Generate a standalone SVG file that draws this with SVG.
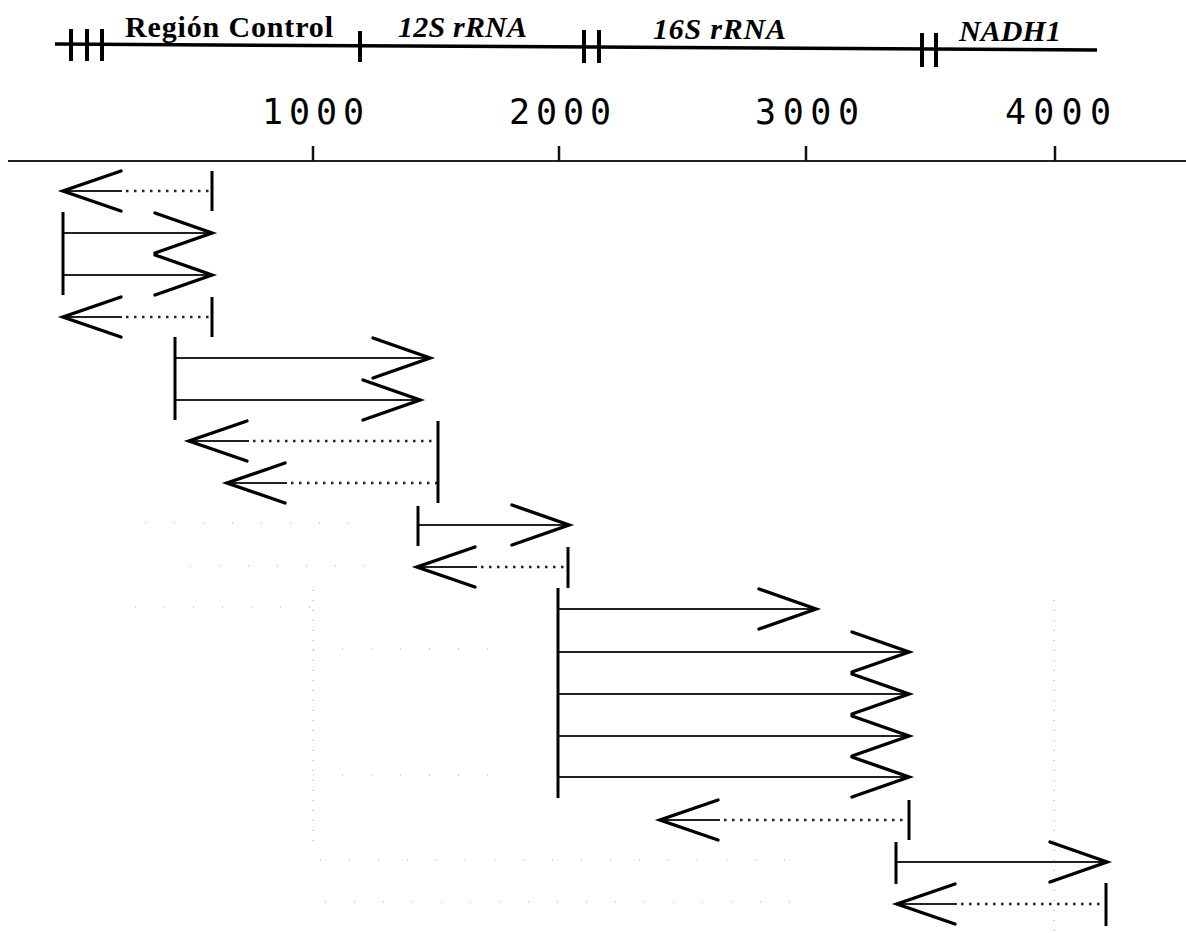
<svg xmlns="http://www.w3.org/2000/svg" width="1186" height="933" viewBox="0 0 1186 933">
<style>
.lbl{font-family:"Liberation Serif","Times New Roman",serif;font-weight:bold;font-size:30px;fill:#000}
.it{font-style:italic}
.num{font-family:"DejaVu Sans Mono","Liberation Mono",monospace;font-size:35px;fill:#000;text-anchor:middle}
.ruler{stroke:#000;stroke-width:3.5;fill:none}
.tk{stroke:#000;stroke-width:4}
.axis{stroke:#222;stroke-width:2}
.atk{stroke:#111;stroke-width:2.5}
.sl{stroke:#222;stroke-width:1.8}
.dl{stroke:#222;stroke-width:2.6;stroke-dasharray:2.5 5.5}
.hd{fill:none;stroke:#000;stroke-width:3.4;stroke-linejoin:miter;stroke-linecap:round}
.bar{stroke:#000;stroke-width:3}
.grid{stroke:#999;stroke-width:1;stroke-dasharray:1 9}
.spk{stroke:#aaa;stroke-width:1.2;stroke-dasharray:1 28}
</style>
<rect width="1186" height="933" fill="#fff"/>
<g id="noise">
<line class="grid" x1="313" y1="590" x2="313" y2="845"/>
<line class="grid" x1="1054" y1="600" x2="1054" y2="933"/>
<line class="spk" x1="145" y1="523" x2="370" y2="523"/>
<line class="spk" x1="190" y1="566" x2="370" y2="566"/>
<line class="spk" x1="135" y1="607" x2="320" y2="607"/>
<line class="spk" x1="313" y1="649" x2="490" y2="649"/>
<line class="spk" x1="313" y1="775" x2="490" y2="775"/>
<line class="spk" x1="320" y1="860" x2="810" y2="860"/>
<line class="spk" x1="325" y1="902" x2="810" y2="902"/>
</g>
<g id="gene-map">
<line class="ruler" x1="55" y1="44" x2="1097" y2="50"/>
<line class="tk" x1="71" y1="29" x2="71" y2="61"/>
<line class="tk" x1="87" y1="29" x2="87" y2="61"/>
<line class="tk" x1="102" y1="29" x2="102" y2="61"/>
<line class="tk" x1="360" y1="31" x2="360" y2="62"/>
<line class="tk" x1="584" y1="30" x2="584" y2="63"/>
<line class="tk" x1="599" y1="30" x2="599" y2="63"/>
<line class="tk" x1="922" y1="33" x2="922" y2="67"/>
<line class="tk" x1="936" y1="33" x2="936" y2="67"/>
</g>
<g id="label-region-control"><text class="lbl" x="125" y="37" textLength="208" lengthAdjust="spacing">Región Control</text></g>
<g id="label-12s"><text class="lbl it" x="398" y="37" textLength="129" lengthAdjust="spacing">12S rRNA</text></g>
<g id="label-16s"><text class="lbl it" x="653" y="39" textLength="133" lengthAdjust="spacing">16S rRNA</text></g>
<g id="label-nadh1"><text class="lbl it" x="959" y="41" textLength="102" lengthAdjust="spacing">NADH1</text></g>
<g id="scale-axis">
<line class="axis" x1="8" y1="161" x2="1186" y2="161"/>
<line class="atk" x1="313" y1="146" x2="313" y2="161"/>
<line class="atk" x1="559" y1="146" x2="559" y2="161"/>
<line class="atk" x1="806" y1="146" x2="806" y2="161"/>
<line class="atk" x1="1055" y1="146" x2="1055" y2="161"/>
<text class="num" x="313" y="124" textLength="102" lengthAdjust="spacing">1000</text>
<text class="num" x="560" y="124" textLength="102" lengthAdjust="spacing">2000</text>
<text class="num" x="807" y="124" textLength="104" lengthAdjust="spacing">3000</text>
<text class="num" x="1058" y="124" textLength="106" lengthAdjust="spacing">4000</text>
</g>
<g id="amplicons">
<g id="r0"><line class="sl" x1="63" y1="191" x2="122" y2="191"/><line class="dl" x1="126" y1="191" x2="212" y2="191"/><polyline class="hd" points="121,171 63,191 121,211"/><line class="bar" x1="212" y1="171" x2="212" y2="211"/></g>
<g id="r1"><line class="sl" x1="63" y1="233" x2="212" y2="233"/><polyline class="hd" points="155,213 212,233 155,253"/></g>
<g id="r2"><line class="sl" x1="63" y1="275" x2="212" y2="275"/><polyline class="hd" points="155,255 212,275 155,295"/></g>
<line id="b12" class="bar" x1="63" y1="212" x2="63" y2="295"/>
<g id="r3"><line class="sl" x1="63" y1="317" x2="122" y2="317"/><line class="dl" x1="126" y1="317" x2="212" y2="317"/><polyline class="hd" points="121,297 63,317 121,337"/><line class="bar" x1="212" y1="297" x2="212" y2="337"/></g>
<g id="r4"><line class="sl" x1="175" y1="358" x2="430" y2="358"/><polyline class="hd" points="373,338 430,358 373,378"/></g>
<g id="r5"><line class="sl" x1="175" y1="400" x2="420" y2="400"/><polyline class="hd" points="363,380 420,400 363,420"/></g>
<line id="b45" class="bar" x1="175" y1="337" x2="175" y2="420"/>
<g id="r6"><line class="sl" x1="189" y1="441" x2="249" y2="441"/><line class="dl" x1="253" y1="441" x2="438" y2="441"/><polyline class="hd" points="247,421 189,441 247,461"/></g>
<g id="r7"><line class="sl" x1="227" y1="483" x2="287" y2="483"/><line class="dl" x1="291" y1="483" x2="438" y2="483"/><polyline class="hd" points="285,463 227,483 285,503"/></g>
<line id="b67" class="bar" x1="438" y1="421" x2="438" y2="503"/>
<g id="r8"><line class="sl" x1="418" y1="525" x2="569" y2="525"/><polyline class="hd" points="512,505 569,525 512,545"/><line class="bar" x1="418" y1="506" x2="418" y2="546"/></g>
<g id="r9"><line class="sl" x1="417" y1="567" x2="477" y2="567"/><line class="dl" x1="481" y1="567" x2="568" y2="567"/><polyline class="hd" points="475,547 417,567 475,587"/><line class="bar" x1="568" y1="547" x2="568" y2="588"/></g>
<g id="r10"><line class="sl" x1="558" y1="609" x2="816" y2="609"/><polyline class="hd" points="759,589 816,609 759,629"/></g>
<g id="r11"><line class="sl" x1="558" y1="652" x2="909" y2="652"/><polyline class="hd" points="852,632 909,652 852,672"/></g>
<g id="r12"><line class="sl" x1="558" y1="694" x2="909" y2="694"/><polyline class="hd" points="852,674 909,694 852,714"/></g>
<g id="r13"><line class="sl" x1="558" y1="736" x2="909" y2="736"/><polyline class="hd" points="852,716 909,736 852,756"/></g>
<g id="r14"><line class="sl" x1="558" y1="777" x2="909" y2="777"/><polyline class="hd" points="852,757 909,777 852,797"/></g>
<line id="b1014" class="bar" x1="558" y1="588" x2="558" y2="798"/>
<g id="r15"><line class="sl" x1="660" y1="820" x2="720" y2="820"/><line class="dl" x1="724" y1="820" x2="909" y2="820"/><polyline class="hd" points="718,800 660,820 718,840"/><line class="bar" x1="909" y1="800" x2="909" y2="840"/></g>
<g id="r16"><line class="sl" x1="896" y1="862" x2="1107" y2="862"/><polyline class="hd" points="1050,842 1107,862 1050,882"/><line class="bar" x1="896" y1="842" x2="896" y2="884"/></g>
<g id="r17"><line class="sl" x1="897" y1="904" x2="957" y2="904"/><line class="dl" x1="961" y1="904" x2="1106" y2="904"/><polyline class="hd" points="955,884 897,904 955,924"/><line class="bar" x1="1106" y1="883" x2="1106" y2="926"/></g>
</g>
</svg>
